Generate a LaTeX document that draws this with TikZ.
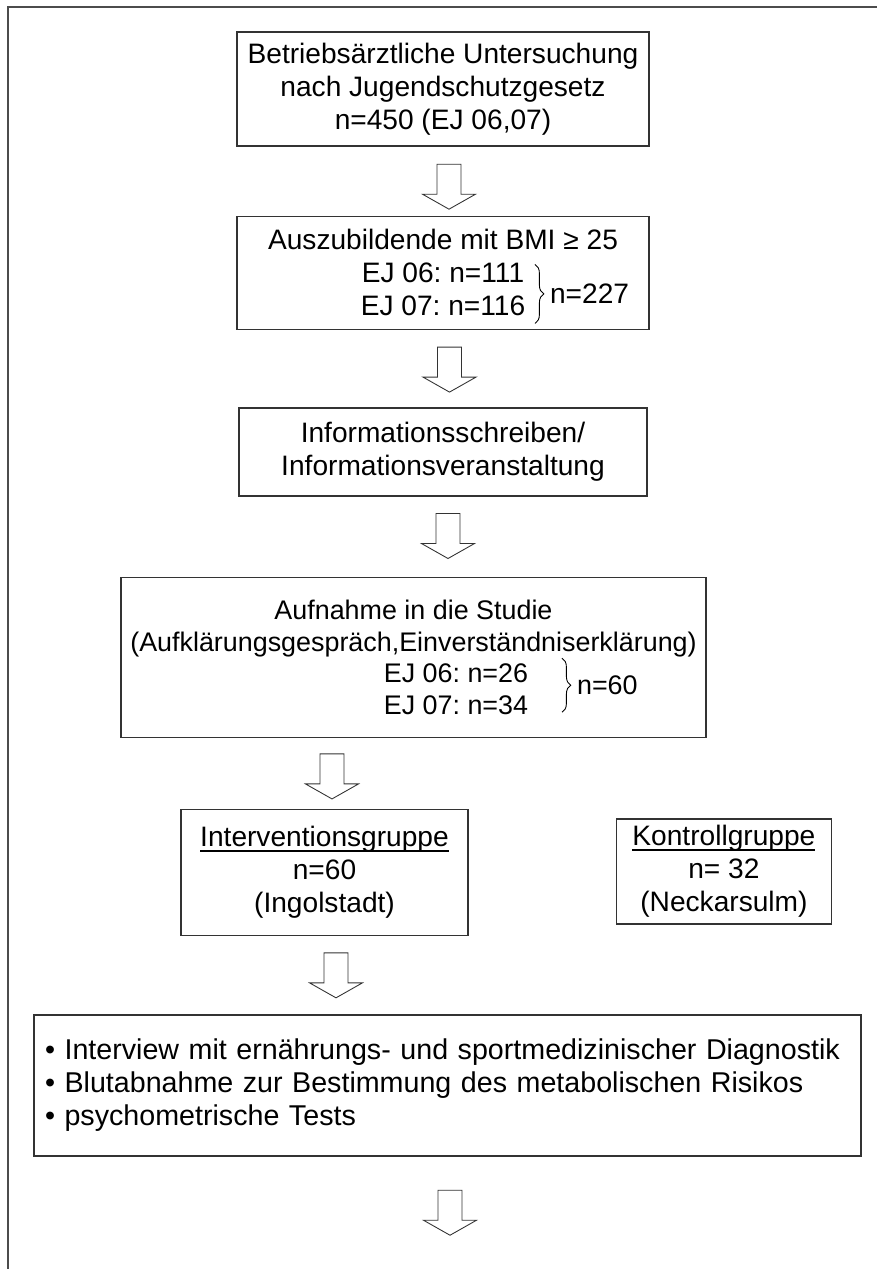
\documentclass[tikz,border=0pt]{standalone}
\usepackage{fontspec}
\setmainfont{Liberation Sans}
\frenchspacing
\usepackage{tikz}
\usetikzlibrary{positioning}
\usetikzlibrary{calc}
\usetikzlibrary{decorations.pathreplacing}
\tikzstyle{flowbox} = [rectangle, draw=black!80, line width=0.8pt, align=center, inner sep=0pt, font=\fontsize{16pt}{18.8pt}\selectfont]
\tikzstyle{hollowarrow} = [draw=black!80, line width=0.5pt, fill=white]
\tikzstyle{brace} = [decorate, decoration={brace, amplitude=5pt}, line width=0.5pt]
\tikzstyle{frame} = [draw=black!70, line width=1.2pt]
\newcommand{\ulword}[1]{\setbox0=\hbox{#1}\rlap{\rule[-2.8pt]{\wd0}{1pt}}\box0}
\newcommand{\blockarrow}[1]{\draw[hollowarrow] ($(#1)+(-0.24,0.45)$) -- ++(0,-0.6) -- ++(-0.29,0) -- ++(0.53,-0.3) -- ++(0.53,0.3) -- ++(-0.29,0) -- ++(0,0.6) -- cycle;}
\begin{document}
\begin{tikzpicture}[node distance=1.5cm]
    \useasboundingbox (0,0) rectangle (17.54,-25.38);
    \draw [frame] (0.16,-25.38) |- (17.54,-0.14);

    \node (exam) [flowbox, minimum width=8.24cm, minimum height=2.28cm] at (8.86,-1.78) {Betriebsärztliche Untersuchung\\nach Jugendschutzgesetz\\n=450 (EJ 06,07)};
    \node (bmi) [flowbox, below=1.38cm of exam, minimum width=8.24cm, minimum height=2.26cm] {Auszubildende mit BMI ≥ 25\\EJ 06: n=111\\EJ 07: n=116};
    \node (info) [flowbox, below=1.54cm of bmi, minimum width=8.16cm, minimum height=1.76cm] {Informationsschreiben/\\Informationsveranstaltung};
    \node (study) [flowbox, below=1.6cm of info, xshift=-0.59cm, minimum width=11.7cm, minimum height=3.2cm, font=\fontsize{15.3pt}{18pt}\selectfont] {Aufnahme in die Studie\\(Aufklärungsgespräch,Einverständniserklärung)\\\hspace*{1.7cm}EJ 06: n=26\\\hspace*{1.7cm}EJ 07: n=34};
    \node (interv) [flowbox, below=1.42cm of study, xshift=-1.78cm, minimum width=5.74cm, minimum height=2.52cm] {\ulword{Interventionsgruppe}\\n=60\\(Ingolstadt)};
    \node (control) [flowbox, right=2.94cm of interv, yshift=0.02cm, minimum width=4.3cm, minimum height=2.1cm] {\ulword{Kontrollgruppe}\\n= 32\\(Neckarsulm)};
    \node (diag) [flowbox, below=1.56cm of interv, xshift=2.46cm, minimum width=16.54cm, minimum height=2.82cm, text width=16.1cm, inner xsep=0.22cm, align=left, font=\fontsize{16.3pt}{18.8pt}\selectfont] {• Interview mit ernährungs- und sportmedizinischer Diagnostik\\• Blutabnahme zur Bestimmung des metabolischen Risikos\\• psychometrische Tests};

    \draw [brace] ($(bmi.center)+(1.84,0.17)$) -- node (tot2) [right=5pt, font=\fontsize{16pt}{18.8pt}\selectfont] {n=227} ($(bmi.center)+(1.84,-1.01)$);
    \draw [brace] ($(study.center)+(2.97,-0.02)$) -- node (tot4) [right=5pt, font=\fontsize{15.3pt}{18pt}\selectfont] {n=60} ($(study.center)+(2.97,-1.1)$);

    \coordinate (a1) at ($(exam.south)+(0.12,-0.80)$);
    \coordinate (a2) at ($(bmi.south)+(0.13,-0.79)$);
    \coordinate (a3) at ($(info.south)+(0.10,-0.79)$);
    \coordinate (a4) at ($(interv.north)+(0.15,0.65)$);
    \coordinate (a5) at ($(interv.south)+(0.23,-0.78)$);
    \coordinate (a6) at ($(diag.south)+(0.05,-1.12)$);
    \foreach \a in {a1,a2,a3,a4,a5,a6}
        \blockarrow{\a};
\end{tikzpicture}
\end{document}
